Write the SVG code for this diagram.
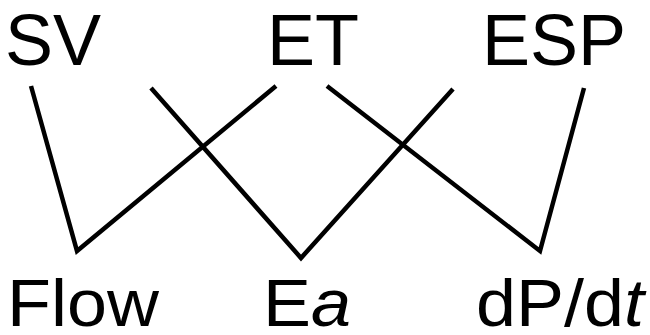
<svg xmlns="http://www.w3.org/2000/svg" width="650" height="335" viewBox="0 0 650 335">
<style>
.lbl{font-family:"Liberation Sans",Arial,Helvetica,sans-serif;font-size:72px;fill:#000}
.lbl2{font-family:"Liberation Sans",Arial,Helvetica,sans-serif;font-size:66px;fill:#000}
.it{font-style:italic}
.ln{fill:none;stroke:#000;stroke-width:4.5;stroke-linejoin:miter;stroke-miterlimit:10}
</style>
<rect width="650" height="335" fill="#fff"/>
<g id="connectors">
<polyline class="ln" points="31,86 77,251 276,86"/>
<polyline class="ln" points="151,88 301,258 453,89"/>
<polyline class="ln" points="327,86 540,251 584,88"/>
</g>
<g id="node-SV"><text class="lbl" x="5" y="65">SV</text></g>
<g id="node-ET"><text class="lbl" x="267" y="65">ET</text></g>
<g id="node-ESP"><text class="lbl" x="482" y="65">ESP</text></g>
<g id="node-Flow"><text class="lbl2" transform="translate(7,326) scale(1.09,1)">Flow</text></g>
<g id="node-Ea"><text class="lbl2" transform="translate(263,326) scale(1.09,1)">E<tspan class="it">a</tspan></text></g>
<g id="node-dPdt"><text class="lbl2" transform="translate(476,326) scale(1.09,1)">dP/d<tspan class="it">t</tspan></text></g>
</svg>
